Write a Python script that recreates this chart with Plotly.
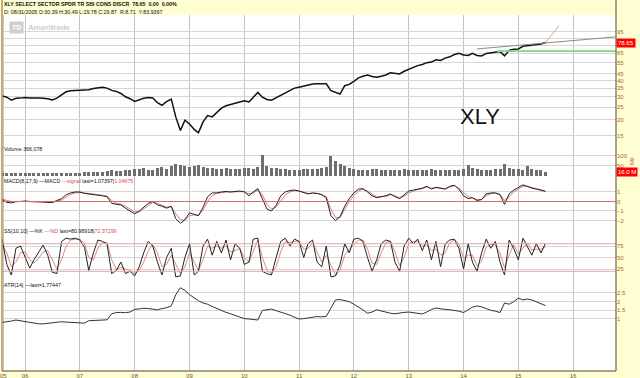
import math
import pandas as pd
import plotly.graph_objects as go

# ---------------- data (monthly, Aug 2005 .. Jul 2015) ----------------
months = pd.date_range("2005-08-01", "2015-07-01", freq="MS")

price_close = [
    30.5, 29.8, 28.3, 29.2, 29.3,
    29.6, 29.4, 29.5, 29.4, 29.2, 29.0, 28.4, 29.3, 31.0, 32.8, 33.4, 33.6,
    33.9, 34.2, 34.0, 34.8, 35.3, 35.5, 35.0, 33.6, 33.0, 31.8, 30.0, 29.0,
    27.6, 28.4, 29.2, 29.6, 29.4, 27.0, 25.8, 27.5, 28.8, 21.0, 16.5, 19.8,
    18.5, 16.8, 15.8, 19.2, 21.5, 21.0, 22.8, 24.5, 25.6, 26.2, 26.8, 27.6,
    28.0, 27.4, 29.8, 32.4, 29.8, 28.6, 28.2, 29.5, 30.8, 32.2, 33.6, 35.0,
    35.6, 36.4, 36.8, 37.6, 37.9, 37.6, 37.8, 33.5, 32.5, 31.5, 36.5, 37.4,
    39.5, 42.0, 43.2, 44.1, 43.0, 42.4, 43.2, 44.2, 46.0, 45.5, 45.0, 47.2,
    48.8, 50.5, 52.2, 53.2, 55.0, 55.6, 57.8, 57.2, 59.6, 61.0, 63.5, 65.0,
    63.0, 62.5, 65.0, 62.5, 62.0, 64.8, 65.8, 66.5, 67.0, 62.0, 68.5, 69.8,
    70.2, 73.5, 74.2, 74.8, 75.8, 76.6, 78.65,
]

volume_mil = [
    12, 13, 14, 12, 11,
    12, 11, 13, 12, 14, 13, 12, 11, 12, 13, 12, 11,
    15, 16, 18, 20, 18, 19, 22, 28, 25, 24, 26, 28,
    35, 32, 38, 30, 28, 38, 42, 35, 48, 58, 52, 48,
    45, 50, 55, 45, 40, 38, 35, 34, 36, 35, 33, 32,
    38, 36, 34, 45, 105, 50, 40, 36, 34, 32, 30, 28,
    30, 32, 34, 32, 35, 40, 45, 100, 75, 60, 48, 40,
    32, 30, 28, 30, 35, 32, 30, 28, 30, 28, 30, 32,
    28, 26, 28, 30, 30, 32, 28, 26, 28, 30, 28, 30,
    35, 55, 40, 32, 28, 28, 30, 35, 32, 60, 40, 35,
    32, 30, 48, 35, 30, 28, 16,
]

macd_line = [
    0.2, -0.1, -0.15, 0.0, 0.0,
    0.05, 0.0, 0.0, 0.0, -0.05, -0.1, -0.1, 0.1, 0.3, 0.7, 0.9, 1.0,
    1.0, 0.85, 0.8, 0.75, 0.7, 0.6, 0.5, -0.2, -0.3, -0.35, -0.7, -1.0,
    -1.3, -1.0, -0.6, -0.2, 0.0, -0.35, -0.5, -0.7, -0.5, -1.8, -2.3, -1.9,
    -1.2, -1.4, -1.5, -0.6, 0.5, 0.9, 0.9, 1.0, 1.05, 1.0, 1.05, 1.1,
    1.0, 0.6, 1.0, 1.35, 0.3, -0.8, -1.0, -0.4, 0.6, 1.0, 1.15, 1.2,
    1.1, 0.9, 0.8, 0.9, 0.85, 0.7, 0.4, -1.5, -2.0, -1.6, -0.5, 0.3,
    0.9, 1.3, 1.35, 1.0, 0.6, 0.4, 0.5, 0.6, 0.8, 0.5, 0.3, 0.7,
    1.1, 1.2, 1.3, 1.4, 1.6, 1.3, 1.5, 1.4, 1.3, 1.6, 1.7, 1.3,
    0.6, 0.3, 0.4, 0.1, 0.2, 0.8, 0.9, 0.9, 0.7, -0.3, 0.8, 1.2,
    1.5, 1.75, 1.6, 1.4, 1.3, 1.2, 1.07,
]

macd_signal = [
    0.3, 0.1, 0.0, -0.05, 0.0,
    0.0, 0.0, 0.0, 0.0, 0.0, -0.05, -0.1, 0.0, 0.15, 0.45, 0.75, 0.9,
    0.95, 0.9, 0.85, 0.8, 0.72, 0.65, 0.55, 0.1, -0.2, -0.3, -0.5, -0.8,
    -1.1, -1.1, -0.8, -0.4, -0.1, -0.2, -0.4, -0.6, -0.55, -1.3, -1.9, -2.0,
    -1.5, -1.4, -1.45, -0.9, 0.0, 0.6, 0.85, 0.95, 1.0, 1.0, 1.0, 1.05,
    1.05, 0.8, 0.9, 1.2, 0.7, -0.3, -0.8, -0.6, 0.1, 0.7, 1.0, 1.15,
    1.1, 0.95, 0.85, 0.85, 0.85, 0.75, 0.5, -0.8, -1.7, -1.7, -0.9, 0.0,
    0.6, 1.1, 1.3, 1.1, 0.8, 0.5, 0.5, 0.55, 0.7, 0.6, 0.4, 0.55,
    0.9, 1.1, 1.25, 1.35, 1.5, 1.4, 1.45, 1.4, 1.35, 1.5, 1.65, 1.4,
    0.9, 0.5, 0.4, 0.2, 0.2, 0.6, 0.8, 0.9, 0.75, 0.1, 0.5, 1.0,
    1.3, 1.6, 1.6, 1.45, 1.35, 1.25, 1.05,
]

ss_k = [
    90, 35, 12, 70, 75,
    50, 27, 45, 60, 77, 55, 18, 15, 85, 92, 90, 92,
    88, 72, 22, 60, 88, 85, 80, 15, 22, 40, 15, 20,
    10, 30, 60, 85, 75, 40, 12, 50, 70, 8, 10, 50,
    80, 12, 20, 75, 90, 55, 85, 60, 88, 45, 80, 70,
    35, 40, 90, 92, 20, 15, 12, 50, 85, 92, 75, 90,
    85, 50, 80, 88, 40, 30, 75, 8, 10, 35, 80, 60,
    90, 92, 85, 50, 20, 45, 80, 88, 85, 40, 20, 75,
    92, 80, 90, 65, 88, 45, 85, 30, 80, 88, 90, 70,
    25, 80, 40, 20, 60, 90, 70, 85, 40, 12, 88, 70,
    45, 92, 75, 55, 80, 60, 80.99,
]

ss_d = [
    80, 60, 30, 40, 60,
    62, 45, 38, 48, 62, 65, 45, 25, 45, 75, 88, 90,
    90, 80, 50, 45, 70, 82, 82, 45, 25, 28, 25, 22,
    15, 22, 40, 65, 78, 60, 30, 35, 55, 35, 15, 30,
    60, 40, 22, 45, 75, 70, 75, 70, 75, 62, 65, 70,
    50, 40, 65, 88, 50, 22, 15, 30, 62, 85, 82, 85,
    85, 68, 70, 82, 62, 40, 55, 35, 12, 22, 55, 68,
    78, 88, 88, 68, 38, 35, 60, 82, 85, 62, 32, 50,
    80, 85, 85, 75, 78, 65, 68, 55, 60, 82, 88, 80,
    48, 55, 55, 32, 42, 72, 78, 78, 60, 28, 55, 78,
    58, 72, 82, 66, 68, 68, 72.37,
]

atr_14 = [
    0.8, 0.82, 0.88, 0.94, 0.9,
    0.85, 0.8, 0.75, 0.72, 0.72, 0.76, 0.8, 0.83, 0.84, 0.82, 0.8, 0.78,
    0.75, 0.76, 0.9, 0.92, 0.94, 0.94, 0.95, 1.3, 1.37, 1.38, 1.36, 1.4,
    1.55, 1.58, 1.62, 1.6, 1.55, 1.53, 1.6, 1.65, 1.75, 2.4, 2.8, 2.65,
    2.4, 2.2, 2.05, 1.92, 1.85, 1.72, 1.6, 1.48, 1.38, 1.3, 1.2, 1.1,
    1.02, 1.0, 0.96, 0.94, 1.49, 1.55, 1.57, 1.48, 1.4, 1.33, 1.22, 1.1,
    1.0, 1.02, 1.05, 1.1, 1.14, 1.12, 1.15, 1.63, 2.1, 2.12, 2.05, 2.0,
    1.85, 1.7, 1.53, 1.33, 1.4, 1.53, 1.45, 1.38, 1.33, 1.3, 1.35, 1.38,
    1.4, 1.36, 1.3, 1.29, 1.4, 1.55, 1.63, 1.58, 1.55, 1.53, 1.5, 1.45,
    1.37, 1.55, 1.68, 1.75, 1.7, 1.6, 1.5, 1.45, 1.37, 1.92, 1.85, 2.0,
    2.2, 2.1, 2.15, 2.1, 2.0, 1.85, 1.77,
]

# drawing-tool lines on the price panel
trend_dates = ["2014-04-01", "2016-10-13"]
trend_prices = [70.2, 87.0]
support_dates = ["2014-08-12", "2016-10-13"]
support_prices = [67.5, 67.5]
proj_dates = ["2015-07-01", "2015-09-29"]
proj_prices = [78.65, 105.6]

year_tick_dates = ["2005-08-09", "2006-01-01", "2007-01-01", "2008-01-01", "2009-01-01",
                   "2010-01-01", "2011-01-01", "2012-01-01", "2013-01-01", "2014-01-01",
                   "2015-01-01", "2016-01-01"]
year_tick_labels = ["05", "06", "07", "08", "09", "10", "11", "12", "13", "14", "15", "16"]

price_ticks = [95, 85, 75, 65, 55, 45, 40, 35, 30, 25, 20, 15]
price_tick_labels = ["95", "", "", "65", "55", "45", "40", "35", "30", "25", "20", "15"]
vol_ticks = [100, 50]
macd_ticks = [1, 0, -1, -2]
ss_ticks = [75, 50, 25]
atr_ticks = [2.5, 2, 1.5, 1]

last_price = 78.65
last_volume = 16.0

# ---------------- figure ----------------
W, H = 640, 378
ML, MR, MT, MB = 2, 24, 0, 7
PH = H - MT - MB  # plot height in px
PW = W - ML - MR


def py(pix):  # pixel row -> paper y
    return (PH - pix) / PH


def px(pix):  # pixel column -> paper x
    return (pix - ML) / PW


AX = "#b0682a"
GRID = "#d6d6d6"
VGRID = "#c4c4c4"
FONT = "Liberation Sans Narrow, Liberation Sans, Arial"
SMALL = 5.3

fig = go.Figure()

fig.add_trace(go.Scatter(x=months, y=price_close, mode="lines",
                         line=dict(color="#111111", width=1.5), yaxis="y"))
fig.add_trace(go.Scatter(x=trend_dates, y=trend_prices, mode="lines",
                         line=dict(color="#8a8a8a", width=1), yaxis="y"))
fig.add_trace(go.Scatter(x=support_dates, y=support_prices, mode="lines",
                         line=dict(color="#7ed67e", width=1.6), yaxis="y"))
fig.add_trace(go.Scatter(x=proj_dates, y=proj_prices, mode="lines",
                         line=dict(color="#f0a070", width=1), yaxis="y"))

fig.add_trace(go.Bar(x=months, y=volume_mil, marker=dict(color="#6e6e6e", line=dict(width=0)),
                     width=20 * 24 * 3600 * 1000, yaxis="y2"))

fig.add_trace(go.Scatter(x=months, y=macd_signal, mode="lines",
                         line=dict(color="#e07a7a", width=1), yaxis="y3"))
fig.add_trace(go.Scatter(x=months, y=macd_line, mode="lines",
                         line=dict(color="#222222", width=1), yaxis="y3"))

fig.add_trace(go.Scatter(x=months, y=ss_d, mode="lines",
                         line=dict(color="#e08a8a", width=1), yaxis="y4"))
fig.add_trace(go.Scatter(x=months, y=ss_k, mode="lines",
                         line=dict(color="#222222", width=1), yaxis="y4"))

fig.add_trace(go.Scatter(x=months, y=atr_14, mode="lines",
                         line=dict(color="#333333", width=1), yaxis="y5"))

# reference lines (MACD zero, stochastic 80/20)
x_span = ["2005-07-31", "2016-10-13"]
fig.add_trace(go.Scatter(x=x_span, y=[0, 0], mode="lines",
                         line=dict(color="#d86a6a", width=1), yaxis="y3"))
for lvl in (80, 20):
    fig.add_trace(go.Scatter(x=x_span, y=[lvl, lvl], mode="lines",
                             line=dict(color="#e4a4a4", width=1), yaxis="y4"))


def yax(domain, rng, tickvals, ticktext=None, log=False):
    d = dict(domain=domain, range=rng, side="right", anchor="x",
             tickvals=tickvals, showgrid=True, gridcolor=GRID, gridwidth=1,
             zeroline=False, showline=False, ticks="",
             tickfont=dict(size=6, color=AX, family=FONT), fixedrange=True)
    if ticktext is not None:
        d["ticktext"] = ticktext
    if log:
        d["type"] = "log"
    return d


fig.update_layout(
    width=W, height=H,
    margin=dict(l=ML, r=MR, t=MT, b=MB),
    paper_bgcolor="#fffdd2",
    plot_bgcolor="#ffffff",
    showlegend=False,
    bargap=0,
    xaxis=dict(range=x_span, anchor="y5", tickvals=year_tick_dates, ticktext=year_tick_labels,
               showgrid=True, gridcolor=VGRID, gridwidth=1, zeroline=False, showline=False,
               ticks="", tickfont=dict(size=6, color="#6a5a3a", family=FONT)),
    yaxis=yax([py(147), py(15)], [math.log10(12.3), math.log10(128.2)], price_ticks,
              price_tick_labels, log=True),
    yaxis2=yax([py(176), py(147)], [-2.5, 142.5], vol_ticks),
    yaxis3=yax([py(226), py(176)], [-2.58, 2.68], macd_ticks),
    yaxis4=yax([py(281), py(226)], [-1.1, 118.5], ss_ticks),
    yaxis5=yax([0, py(281)], [-2.0, 3.19], atr_ticks),
)

# borders
fig.add_shape(type="line", xref="paper", yref="paper", x0=0, x1=0, y0=0, y1=1,
              line=dict(color="#b09060", width=1.5))
fig.add_shape(type="line", xref="paper", yref="paper", x0=1, x1=1, y0=0, y1=1,
              line=dict(color="#8a8466", width=1.5))
fig.add_shape(type="line", xref="paper", yref="paper", x0=0, x1=1, y0=0, y1=0,
              line=dict(color="#8a8466", width=1.5))

ann = []
txt = dict(size=SMALL, color="#111111", family=FONT)
red = "#d05050"


def label(text, xpix, ypix, font=None, **kw):
    d = dict(text=text, x=px(xpix), y=py(ypix), xref="paper", yref="paper",
             xanchor="left", yanchor="middle", showarrow=False, font=font or txt)
    d.update(kw)
    ann.append(d)


label("<b>XLY SELECT SECTOR SPDR TR SBI CONS DISCR&nbsp;&nbsp;78.65&nbsp;&nbsp;0.00&nbsp;&nbsp;0.00%</b>", 2, 4)
label("D: 08/31/2005 O:30.39 H:30.49 L:29.78 C:29.87", 2, 12)
label("R:8.71&nbsp;&nbsp;Y:83.9397", 118, 12)
# TD Ameritrade watermark
label("<b>TD</b>", 9, 27, font=dict(size=7, color="#ffffff", family=FONT), bgcolor="#cfcfcf",
      borderpad=2)
label("<b>Ameritrade</b>", 26, 27, font=dict(size=8, color="#cdcdcd", family="Liberation Sans"))
label("XLY", 480, 116, font=dict(size=22, color="#111111", family="Liberation Sans"),
      xanchor="center")
# panel captions
label("Volume 366,078", 2, 148.5)
label(f"MACD(8,17,9) —MACD <span style='color:{red}'>---signal</span> last=1.07397|<span style='color:{red}'>1.04675</span>", 2, 181)
label(f"SS(10,10) —%K <span style='color:{red}'>---%D</span> last=80.98918|<span style='color:{red}'>72.37299</span>", 2, 230.5)
label("ATR(14) —last=1.77447", 2, 284.5)

# last value boxes on the axis
ann.append(dict(text="78.65", x=1.0, y=math.log10(last_price), xref="paper", yref="y",
                xanchor="left", yanchor="middle", showarrow=False, bgcolor="#ff0000",
                font=dict(size=6, color="#ffffff", family=FONT), borderpad=1))
ann.append(dict(text="16.0 M", x=1.0, y=last_volume, xref="paper", yref="y2",
                xanchor="left", yanchor="middle", showarrow=False, bgcolor="#ff0000",
                font=dict(size=6, color="#ffffff", family=FONT), borderpad=1))
ann.append(dict(text="Mil", x=px(632), y=py(161), xref="paper", yref="paper",
                xanchor="center", yanchor="middle", showarrow=False, textangle=-90,
                font=dict(size=6, color="#d05030", family=FONT)))
fig.update_layout(annotations=ann)

fig.write_html("out.html")
